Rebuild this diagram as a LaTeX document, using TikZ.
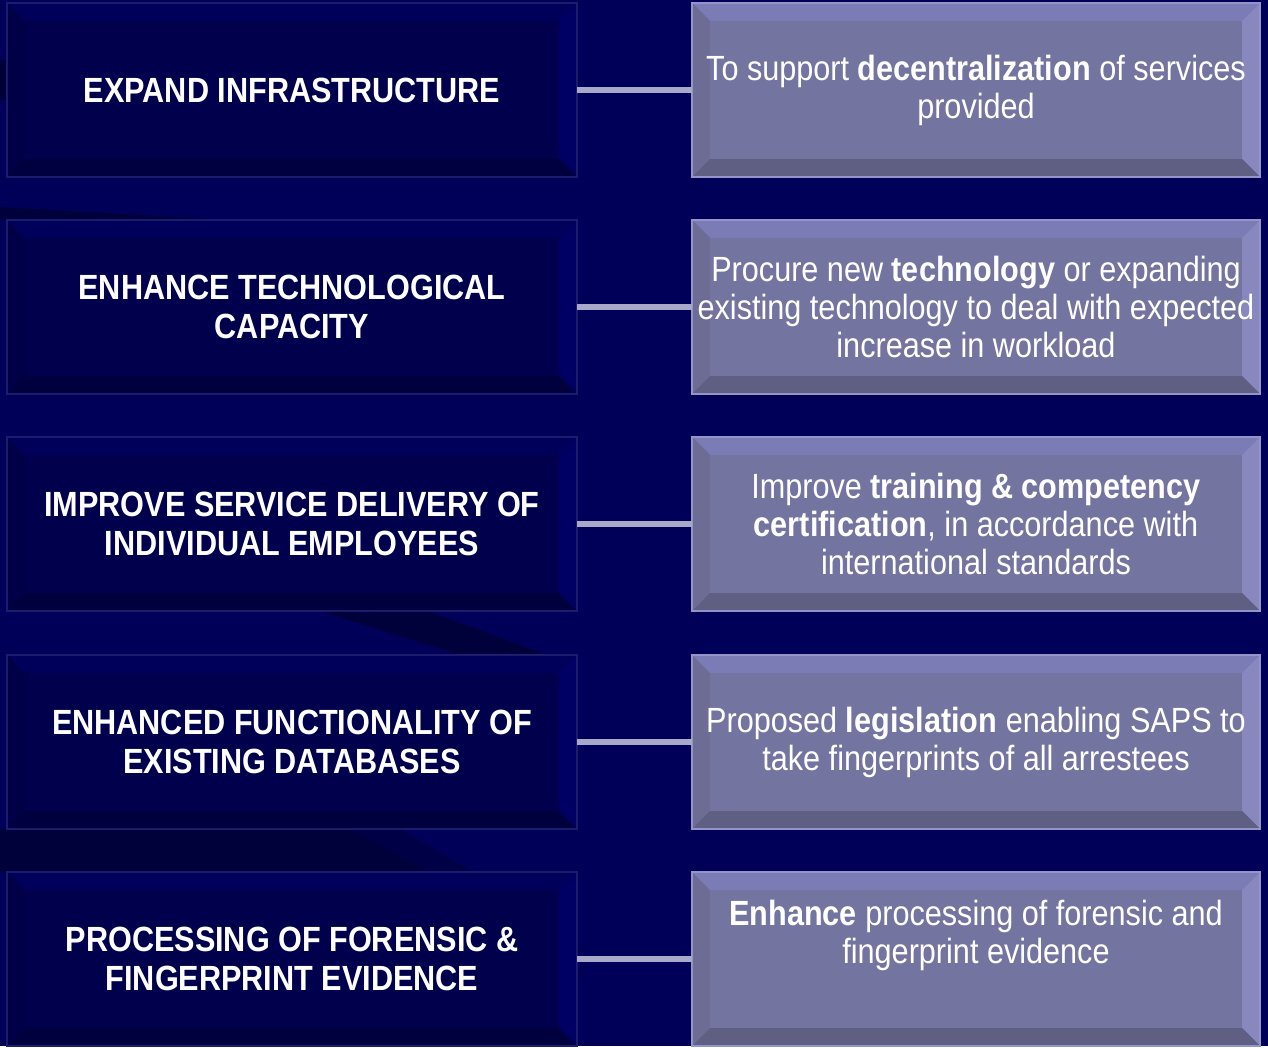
\documentclass[tikz,border=0pt]{standalone}
\usepackage{fontspec}
\setmainfont{Liberation Sans}[FakeStretch=0.875]
\usetikzlibrary{positioning,backgrounds}

\definecolor{navybg}{HTML}{000058}
\definecolor{navydark}{HTML}{00003A}
\definecolor{goalface}{HTML}{00004C}
\definecolor{goalrim}{HTML}{1C1C6C}
\definecolor{goaltop}{HTML}{00005A}
\definecolor{goalleft}{HTML}{000046}
\definecolor{goalright}{HTML}{000064}
\definecolor{goalbottom}{HTML}{00003E}
\definecolor{aimface}{HTML}{7474A0}
\definecolor{aimrim}{HTML}{9494C8}
\definecolor{linkgray}{HTML}{A8A8C8}

% bevel round a node: name, top, left, right, bottom colour
\newcommand{\bevelframe}[5]{%
  \fill[#2] (#1.north west) -- (#1.north east) -- ([xshift=-18pt,yshift=-18pt]#1.north east) -- ([xshift=18pt,yshift=-18pt]#1.north west) -- cycle;
  \fill[#3] (#1.north west) -- ([xshift=18pt,yshift=-18pt]#1.north west) -- ([xshift=18pt,yshift=18pt]#1.south west) -- (#1.south west) -- cycle;
  \fill[#4] (#1.north east) -- ([xshift=-18pt,yshift=-18pt]#1.north east) -- ([xshift=-18pt,yshift=18pt]#1.south east) -- (#1.south east) -- cycle;
  \fill[#5] (#1.south west) -- ([xshift=18pt,yshift=18pt]#1.south west) -- ([xshift=-18pt,yshift=18pt]#1.south east) -- (#1.south east) -- cycle;
}

\begin{document}
\begin{tikzpicture}[x=1pt, y=-1pt,
	goal/.style={text=white, minimum width=570pt, minimum height=174pt,
		inner sep=0pt, align=center, font=\fontsize{35}{39}\selectfont\bfseries},
	aim/.style={text=white, minimum width=568pt, minimum height=174pt,
		inner sep=0pt, align=center, font=\fontsize{35}{38}\selectfont},
	link/.style={draw=linkgray, line width=6pt}]
	\begin{scope}[on background layer]
	\fill[navybg] (0,0) rectangle (1268,1046);
	% darker streaks of the background
	\fill[navydark] (0,207) -- (230,220) -- (0,220) -- cycle;
	\fill[navydark] (320,611) -- (428,611) -- (550,656) -- (464,656) -- cycle;
	\fill[navydark] (0,829) -- (350,829) -- (430,872) -- (0,872) -- cycle;
	\fill[navydark!60!navybg] (350,829) -- (400,829) -- (473,872) -- (430,872) -- cycle;
	\fill[navydark] (0,60) rectangle (8,100);
	\end{scope}

	\node[goal] (g1) at (292,90) {EXPAND INFRASTRUCTURE};
	\node[goal] (g2) at (292,307) {ENHANCE TECHNOLOGICAL\\CAPACITY};
	\node[goal] (g3) at (292,524) {IMPROVE SERVICE DELIVERY OF\\INDIVIDUAL EMPLOYEES};
	\node[goal] (g4) at (292,742) {ENHANCED FUNCTIONALITY OF\\EXISTING DATABASES};
	\node[goal] (g5) at (292,959) {PROCESSING OF FORENSIC \&\\FINGERPRINT EVIDENCE};

	\node[aim] (a1) at (976,90) {To support \textbf{decentralization} of services\\provided};
	\node[aim] (a2) at (976,307) {Procure new \textbf{technology} or expanding\\existing technology to deal with expected\\increase in workload};
	\node[aim] (a3) at (976,524) {Improve \textbf{training \& competency}\\\textbf{certification}, in accordance with\\international standards};
	\node[aim] (a4) at (976,742) {Proposed \textbf{legislation} enabling SAPS to\\take fingerprints of all arrestees};
	\node[aim] (a5) at (976,959) {\textbf{Enhance} processing of forensic and\\fingerprint evidence\\\rule[-16pt]{0pt}{0pt}};

	\foreach \i in {1,...,5}{
		\begin{scope}[on background layer]
		\fill[goalface] (g\i.north west) rectangle (g\i.south east);
		\fill[aimface] (a\i.north west) rectangle (a\i.south east);
		\bevelframe{g\i}{goaltop}{goalleft}{goalright}{goalbottom}
		\bevelframe{a\i}{aimface!85!white!90!blue}{aimface!93!black}{aimface!75!white!90!blue}{aimface!82!black}
		\draw[goalrim, line width=2pt] (g\i.north west) rectangle (g\i.south east);
		\draw[aimrim, line width=2pt] (a\i.north west) rectangle (a\i.south east);
		\end{scope}
		\draw[link] (g\i.east) -- (a\i.west);
	}
\end{tikzpicture}
\end{document}
